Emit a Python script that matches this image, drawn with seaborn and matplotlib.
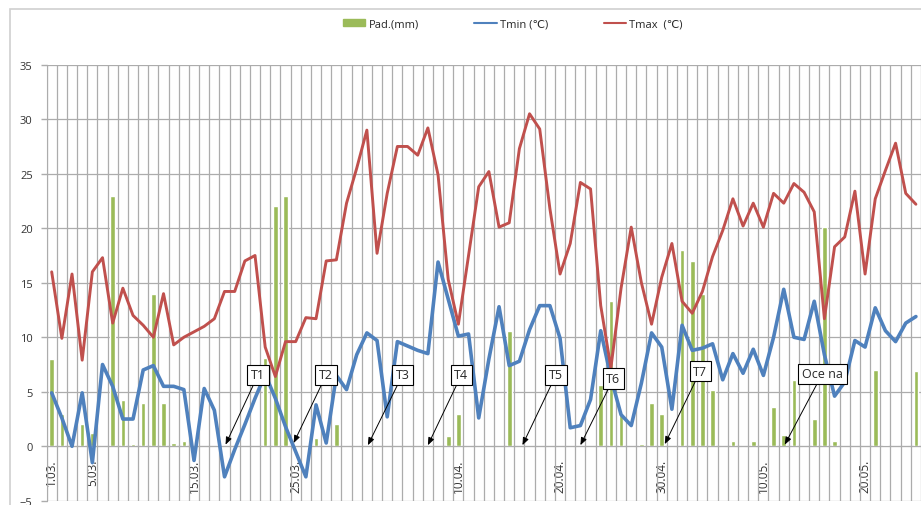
import numpy as np
import pandas as pd
import seaborn as sns
import matplotlib.pyplot as plt
from matplotlib.patches import Patch, Rectangle
from matplotlib.lines import Line2D

# daily values, 1.03. - 25.05.
pad = [8.0, 3.0, 0, 2.0, 1.2, 0, 23.0, 4.2, 0.2, 4.0,
       14.0, 4.0, 0.3, 0.5, 0, 0, 0, 0, 0, 0,
       0, 8.1, 22.0, 23.0, 0, 0, 0.8, 0, 2.0, 0,
       0, 0, 0, 0, 0, 0, 0, 0, 0, 0.9,
       3.0, 0, 0, 0, 0, 10.6, 0, 0, 0, 0,
       0, 0, 0, 0, 5.6, 13.3, 3.0, 0, 0.2, 4.0,
       3.0, 0, 18.0, 17.0, 14.0, 5.2, 0, 0.5, 0, 0.5,
       0, 3.6, 1.0, 6.1, 0, 2.5, 20.1, 0.5, 0, 0,
       0, 7.0, 0.1, 0, 0, 6.9]
tmin = [4.9, 2.6, 0.0, 4.9, -1.5, 7.5, 5.5, 2.5, 2.5, 7.0,
        7.4, 5.5, 5.5, 5.2, -1.3, 5.3, 3.3, -2.8, -0.3, 2.0,
        4.4, 6.6, 4.4, 1.8, -0.5, -2.8, 3.8, 0.3, 6.5, 5.2,
        8.4, 10.4, 9.7, 2.7, 9.6, 9.2, 8.8, 8.5, 16.9, 13.5,
        10.1, 10.3, 2.6, 8.0, 12.8, 7.4, 7.8, 10.7, 12.9, 12.9,
        9.9, 1.7, 1.9, 4.3, 10.6, 6.3, 2.9, 1.9, 5.8, 10.4,
        9.1, 3.4, 11.1, 8.8, 9.0, 9.4, 6.1, 8.5, 6.7, 8.9,
        6.5, 10.0, 14.4, 10.0, 9.8, 13.3, 8.4, 4.6, 5.9, 9.7,
        9.1, 12.7, 10.6, 9.6, 11.3, 11.9]
tmax = [16.0, 9.9, 15.8, 7.9, 16.0, 17.3, 11.3, 14.5, 12.0, 11.1,
        10.0, 14.0, 9.3, 10.0, 10.5, 11.0, 11.7, 14.2, 14.2, 17.0,
        17.5, 9.1, 6.4, 9.6, 9.6, 11.8, 11.7, 17.0, 17.1, 22.3,
        25.5, 29.0, 17.7, 23.2, 27.5, 27.5, 26.7, 29.2, 24.9, 15.3,
        11.2, 17.5, 23.8, 25.2, 20.1, 20.5, 27.3, 30.5, 29.1, 21.8,
        15.8, 18.6, 24.2, 23.6, 12.9, 7.2, 14.5, 20.1, 15.0, 11.2,
        15.5, 18.6, 13.3, 12.2, 14.2, 17.4, 19.8, 22.7, 20.2, 22.3,
        20.1, 23.2, 22.3, 24.1, 23.3, 21.5, 11.7, 18.3, 19.2, 23.4,
        15.8, 22.7, 25.3, 27.8, 23.2, 22.2]
days = np.arange(len(tmax))

tick_pos = [0, 4, 14, 24, 40, 50, 60, 70, 80]
tick_labels = ["1.03.", "5.03.", "15.03.", "25.03.", "10.04.", "20.04.", "30.04.", "10.05.", "20.05."]

# annotations: text, box position (day, °C), arrow tip (day, °C)
notes = ["T1", "T2", "T3", "T4", "T5", "T6", "T7", "Oce na"]
note_box = [(20.3, 6.55), (27.0, 6.55), (34.5, 6.55), (40.3, 6.55), (49.6, 6.55),
            (55.25, 6.2), (63.8, 6.9), (75.8, 6.65)]
note_tip = [(17.1, 0.15), (23.8, 0.3), (31.1, 0.1), (37.0, 0.1), (46.3, 0.1),
            (52.0, 0.1), (60.3, 0.2), (72.1, 0.15)]

df = pd.DataFrame({"day": days, "pad": pad, "tmin": tmin, "tmax": tmax})

GREEN = "#9bbb59"
BLUE = "#4f81bd"
RED = "#c0504d"
GRID = "#acacac"

sns.set_style("white")
plt.rcParams['font.family'] = ['Open Sans', 'DejaVu Sans']

W, H = 921, 506
fig = plt.figure(figsize=(W / 100, H / 100), dpi=100)
ax = fig.add_axes([46.6 / W, (H - 501.8) / H, 1 - 46.6 / W, (501.8 - 65.7) / H])

sns.barplot(data=df, x="day", y="pad", native_scale=True, width=0.45, color=GREEN,
            saturation=1, errorbar=None, ax=ax, zorder=2)
sns.lineplot(data=df, x="day", y="tmin", color=BLUE, lw=2.6, ax=ax, zorder=3,
             solid_joinstyle="round")
sns.lineplot(data=df, x="day", y="tmax", color=RED, lw=2.1, ax=ax, zorder=4,
             solid_joinstyle="round")

ax.set_xlim(-0.5, 85.4)
ax.set_ylim(-5, 35)
ax.set_yticks(np.arange(-5, 36, 5))
ax.set_xticks(tick_pos)
ax.set_xticklabels(tick_labels)
ax.set_xticks(np.arange(-0.5, 86, 1), minor=True)
ax.set_xlabel("")
ax.set_ylabel("")

ax.set_axisbelow(True)
ax.grid(axis="y", which="major", color=GRID, lw=0.9)
ax.grid(axis="x", which="minor", color=GRID, lw=0.9)
ax.grid(axis="x", which="major", visible=False)

for s in ["top", "right"]:
    ax.spines[s].set_visible(False)
ax.spines["bottom"].set_position(("data", 0))
ax.spines["bottom"].set_color(GRID)
ax.spines["left"].set_color(GRID)
ax.tick_params(axis="x", which="both", length=0, pad=9, labelsize=8.5, labelcolor="#333333",
               labelrotation=90)
ax.tick_params(axis="y", direction="out", length=4, width=1, color=GRID, pad=6,
               labelsize=8, labelcolor="#333333", left=True)

for txt, box, tip in zip(notes, note_box, note_tip):
    ax.annotate(txt, xy=tip, xytext=box, ha="center", va="center", fontsize=9,
                zorder=6,
                bbox=dict(boxstyle="square,pad=0.3", fc="white", ec="black", lw=0.8),
                arrowprops=dict(arrowstyle="-|>,head_length=0.45,head_width=0.18",
                                color="black", lw=0.7, mutation_scale=10, shrinkA=0, shrinkB=0))

handles = [Patch(color=GREEN), Line2D([], [], color=BLUE, lw=1.5), Line2D([], [], color=RED, lw=1.5)]
labels = ["Pad.(mm)", "Tmin (℃)", "Tmax  (℃)"]
fig.legend(handles, labels, loc="center", bbox_to_anchor=(513 / W, 1 - 25 / H), ncol=3,
           frameon=False, fontsize=8, handlelength=2.0, handleheight=0.5,
           columnspacing=5.0, handletextpad=0.3)

# outer chart border
fig.add_artist(Rectangle((10 / W, -0.1), 1.2, 1 - 10 / H + 0.1, transform=fig.transFigure,
                         fill=False, ec="#d0d0d0", lw=1.2))

fig.savefig("out.png", dpi=100)
